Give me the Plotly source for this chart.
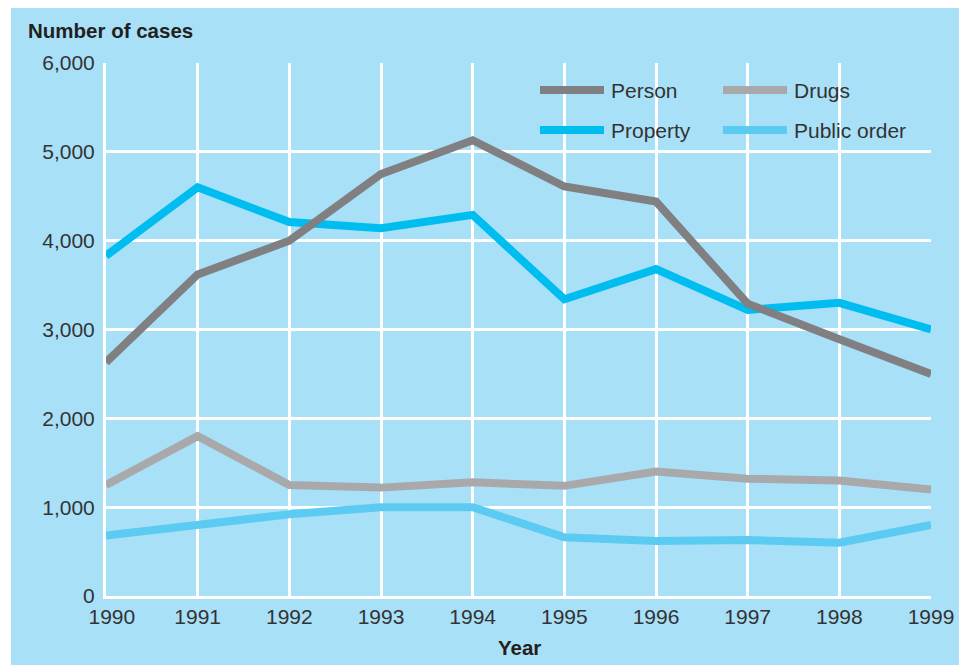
import plotly.graph_objects as go

years = [1990, 1991, 1992, 1993, 1994, 1995, 1996, 1997, 1998, 1999]
year_labels = ["\u00a0\u00a01990", "1991", "1992", "1993", "1994",
               "1995", "1996", "1997", "1998", "1999"]
person = [2630, 3620, 4000, 4750, 5130, 4610, 4440, 3290, 2890, 2500]
property_ = [3830, 4600, 4210, 4140, 4290, 3340, 3680, 3220, 3300, 3000]
drugs = [1250, 1800, 1250, 1220, 1280, 1240, 1400, 1320, 1300, 1200]
public_order = [680, 790, 920, 1000, 1000, 660, 620, 630, 600, 800]

series = [
    ("Person", person, "#808083"),
    ("Drugs", drugs, "#a9a9ab"),
    ("Property", property_, "#00bdf0"),
    ("Public order", public_order, "#5ccbf2"),
]

BG = "#a8e0f8"
FONT = "Liberation Sans, Arial, Helvetica, sans-serif"
TXT = "#333333"

fig = go.Figure()
for name, vals, col in [series[3], series[1], series[2], series[0]]:
    fig.add_trace(go.Scatter(x=years, y=vals, mode="lines", name=name,
                             line=dict(color=col, width=8), showlegend=False))

# helpers: page pixel -> paper coords (plot area at page x 106..931, y 63..596)
W, H = 825.0, 533.0
L, T = 106.0, 63.0
def px(x):
    return (x - L) / W
def py(y):
    return (T + H - y) / H

legend_items = [("Person", "#808083", 540, 90), ("Drugs", "#a9a9ab", 723, 90),
                ("Property", "#00bdf0", 540, 130), ("Public order", "#5ccbf2", 723, 130)]
shapes = [dict(type="rect", xref="paper", yref="paper", x0=px(11), x1=px(990),
               y0=py(690), y1=py(8), fillcolor=BG, line=dict(width=0), layer="below")]
annotations = []
for name, col, x0, y0 in legend_items:
    shapes.append(dict(type="line", xref="paper", yref="paper", x0=px(x0), x1=px(x0 + 64),
                       y0=py(y0), y1=py(y0), line=dict(color=col, width=8)))
    annotations.append(dict(text=name, xref="paper", yref="paper", x=px(x0 + 69), y=py(y0),
                            xanchor="left", yanchor="middle", showarrow=False,
                            font=dict(size=21, color=TXT, family=FONT)))

annotations.append(dict(text="<b>Number of cases</b>", xref="paper", yref="paper",
                        x=px(26), y=py(30), xanchor="left", yanchor="middle", showarrow=False,
                        font=dict(size=20.5, color="#231f20", family=FONT)))
annotations.append(dict(text="<b>Year</b>", xref="paper", yref="paper",
                        x=px(519), y=py(647), xanchor="center", yanchor="middle", showarrow=False,
                        font=dict(size=20.5, color="#231f20", family=FONT)))

fig.update_layout(
    width=959, height=657,
    margin=dict(l=98, r=36, t=55, b=69),
    paper_bgcolor="white", plot_bgcolor="rgba(0,0,0,0)",
    font=dict(family=FONT, size=21, color=TXT),
    shapes=shapes, annotations=annotations,
    showlegend=False,
)
fig.update_xaxes(range=[1990, 1999], tickmode="array", tickvals=years,
                 ticktext=year_labels, showgrid=True, gridcolor="white",
                 gridwidth=2.5, showline=True, linecolor="white", linewidth=3,
                 zeroline=False, ticks="", ticklabelstandoff=0, fixedrange=True)
fig.update_yaxes(range=[0, 6000], tickvals=[0, 1000, 2000, 3000, 4000, 5000, 6000],
                 tickformat=",", showgrid=True, gridcolor="white", gridwidth=2.5,
                 showline=True, linecolor="white", linewidth=3, zeroline=False,
                 ticks="", ticklabelstandoff=4, fixedrange=True)

fig.write_html("out.html")
